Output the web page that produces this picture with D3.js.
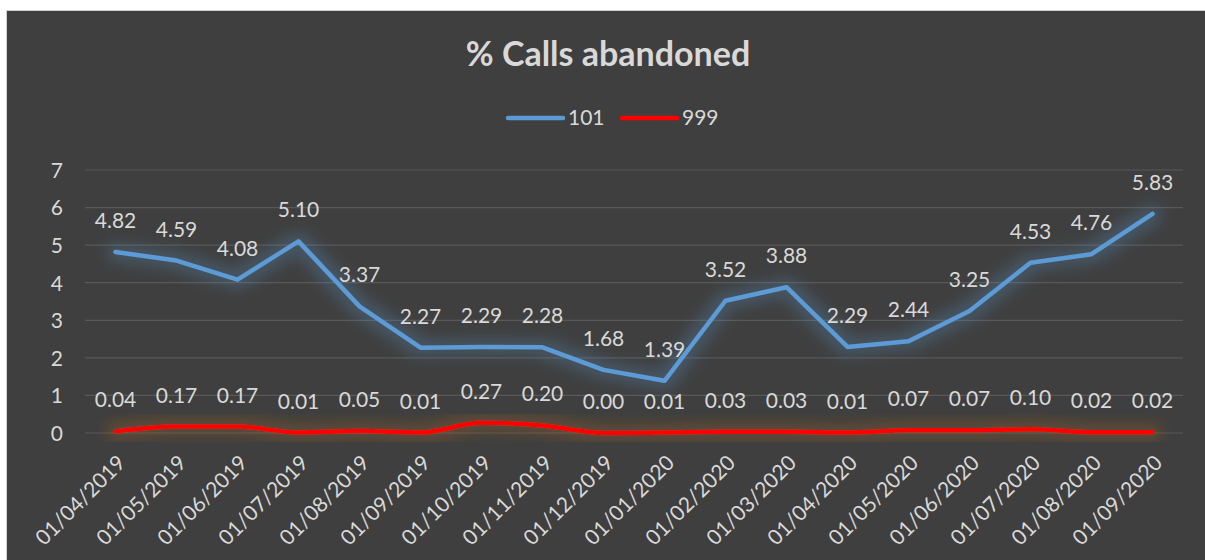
<!DOCTYPE html>
<html>
<head>
<meta charset="utf-8">
<script src="https://cdn.jsdelivr.net/npm/d3@7/dist/d3.min.js"></script>
<style>
  html, body { margin: 0; padding: 0; background: #fff; }
  svg { display: block; }
  text { font-family: Lato, 'Open Sans', sans-serif; }
</style>
</head>
<body>
<div id="chart"></div>
<script>
(() => {
'use strict';

const months = ['01/04/2019', '01/05/2019', '01/06/2019', '01/07/2019', '01/08/2019', '01/09/2019',
  '01/10/2019', '01/11/2019', '01/12/2019', '01/01/2020', '01/02/2020', '01/03/2020',
  '01/04/2020', '01/05/2020', '01/06/2020', '01/07/2020', '01/08/2020', '01/09/2020'];
const calls101 = [4.82, 4.59, 4.08, 5.10, 3.37, 2.27, 2.29, 2.28, 1.68, 1.39, 3.52, 3.88, 2.29, 2.44, 3.25, 4.53, 4.76, 5.83];
const calls999 = [0.04, 0.17, 0.17, 0.01, 0.05, 0.01, 0.27, 0.20, 0.00, 0.01, 0.03, 0.03, 0.01, 0.07, 0.07, 0.10, 0.02, 0.02];
const yTicks = [0, 1, 2, 3, 4, 5, 6, 7];
const seriesNames = ['101', '999'];

const WIDTH = 1205;
const HEIGHT = 560;
const LEFT = 85;
const RIGHT = 1183;
const TOP = 170;
const BOTTOM = 433;
const TEXT_COLOR = '#d9d9d9';

const svg = d3.select('#chart')
  .append('svg')
  .attr('width', WIDTH)
  .attr('height', HEIGHT);

// chart background with thin light border on the left/top
svg.append('rect')
  .attr('x', 6.5).attr('y', 10.5)
  .attr('width', WIDTH).attr('height', HEIGHT)
  .attr('fill', '#3f3f3f')
  .attr('stroke', '#d0d0d0')
  .attr('stroke-width', 1);

const defs = svg.append('defs');
const glow = (id, color, opacity) => {
  const f = defs.append('filter')
    .attr('id', id)
    .attr('x', '-10%').attr('y', '-80%')
    .attr('width', '120%').attr('height', '260%');
  f.append('feMorphology').attr('in', 'SourceAlpha').attr('operator', 'dilate').attr('radius', 6).attr('result', 'thick');
  f.append('feGaussianBlur').attr('in', 'thick').attr('stdDeviation', 7).attr('result', 'blur');
  f.append('feFlood').attr('flood-color', color).attr('flood-opacity', opacity);
  f.append('feComposite').attr('in2', 'blur').attr('operator', 'in').attr('result', 'glow');
  const m = f.append('feMerge');
  m.append('feMergeNode').attr('in', 'glow');
  m.append('feMergeNode').attr('in', 'SourceGraphic');
};
glow('glowBlue', '#5b9bd5', 0.25);
glow('glowRed', '#b5651d', 0.3);

const x = d3.scaleBand()
  .domain(months)
  .range([LEFT, RIGHT]);

const y = d3.scaleLinear()
  .domain([0, 7])
  .range([BOTTOM, TOP]);

const cx = (d, i) => x(months[i]) + x.bandwidth() / 2;

// gridlines
svg.append('g')
  .selectAll('line')
  .data(yTicks)
  .enter()
  .append('line')
    .attr('x1', LEFT)
    .attr('x2', RIGHT)
    .attr('y1', (d) => y(d))
    .attr('y2', (d) => y(d))
    .attr('stroke', '#595959')
    .attr('stroke-width', 1.2);

// y axis labels
const yAxis = d3.axisLeft(y).tickValues(yTicks).tickFormat(d3.format('d')).tickSize(0).tickPadding(22);
const yg = svg.append('g')
  .attr('transform', `translate(${LEFT}, 0)`)
  .call(yAxis);
yg.select('.domain').remove();
yg.selectAll('text')
  .attr('fill', TEXT_COLOR)
  .style('font-size', '21px')
  .attr('dy', '0.35em');

// x axis labels
const xAxis = d3.axisBottom(x).tickSize(0);
const xg = svg.append('g')
  .attr('transform', `translate(0, ${BOTTOM})`)
  .call(xAxis);
xg.select('.domain').remove();
xg.selectAll('text')
  .attr('fill', TEXT_COLOR)
  .style('font-size', '21px')
  .attr('text-anchor', 'end')
  .attr('transform', 'translate(6, 26) rotate(-45)')
  .attr('dy', '0.35em')
  .attr('y', 0)
  .attr('x', 0);

// lines
const line101 = d3.line().x(cx).y((d) => y(d));
const line999 = d3.line().x(cx).y((d) => y(d)).curve(d3.curveMonotoneX);

svg.append('path')
  .datum(calls999)
  .attr('d', line999)
  .attr('fill', 'none')
  .attr('stroke', '#ff0000')
  .attr('stroke-width', 4.5)
  .attr('stroke-linecap', 'round')
  .attr('filter', 'url(#glowRed)');

svg.append('path')
  .datum(calls101)
  .attr('d', line101)
  .attr('fill', 'none')
  .attr('stroke', '#5b9bd5')
  .attr('stroke-width', 4.5)
  .attr('stroke-linecap', 'round')
  .attr('stroke-linejoin', 'round')
  .attr('filter', 'url(#glowBlue)');

// data labels
const labels = (data) => {
  svg.append('g')
    .selectAll('text')
    .data(data)
    .enter()
    .append('text')
      .attr('x', cx)
      .attr('y', (d) => y(d) - 24)
      .attr('text-anchor', 'middle')
      .attr('fill', TEXT_COLOR)
      .style('font-size', '21px')
      .text((d) => d.toFixed(2));
};
labels(calls101);
labels(calls999);

// title
svg.append('text')
  .attr('x', 608)
  .attr('y', 66)
  .attr('text-anchor', 'middle')
  .attr('fill', TEXT_COLOR)
  .style('font-size', '34px')
  .style('font-weight', 'bold')
  .text('% Calls abandoned');

// legend
const legendColor = d3.scaleOrdinal(seriesNames, ['#5b9bd5', '#ff0000']);
const legend = svg.selectAll('.legend')
  .data(seriesNames)
  .enter()
  .append('g')
    .attr('class', 'legend')
    .attr('transform', (d, i) => `translate(${508 + i * 114}, 118)`);

legend.append('line')
  .attr('x1', 0).attr('x2', 55)
  .attr('stroke', legendColor)
  .attr('stroke-width', 4.5)
  .attr('stroke-linecap', 'round');

legend.append('text')
  .attr('x', 60)
  .attr('dy', '0.35em')
  .attr('fill', TEXT_COLOR)
  .style('font-size', '21px')
  .text((d) => d);
})();
</script>
</body>
</html>
